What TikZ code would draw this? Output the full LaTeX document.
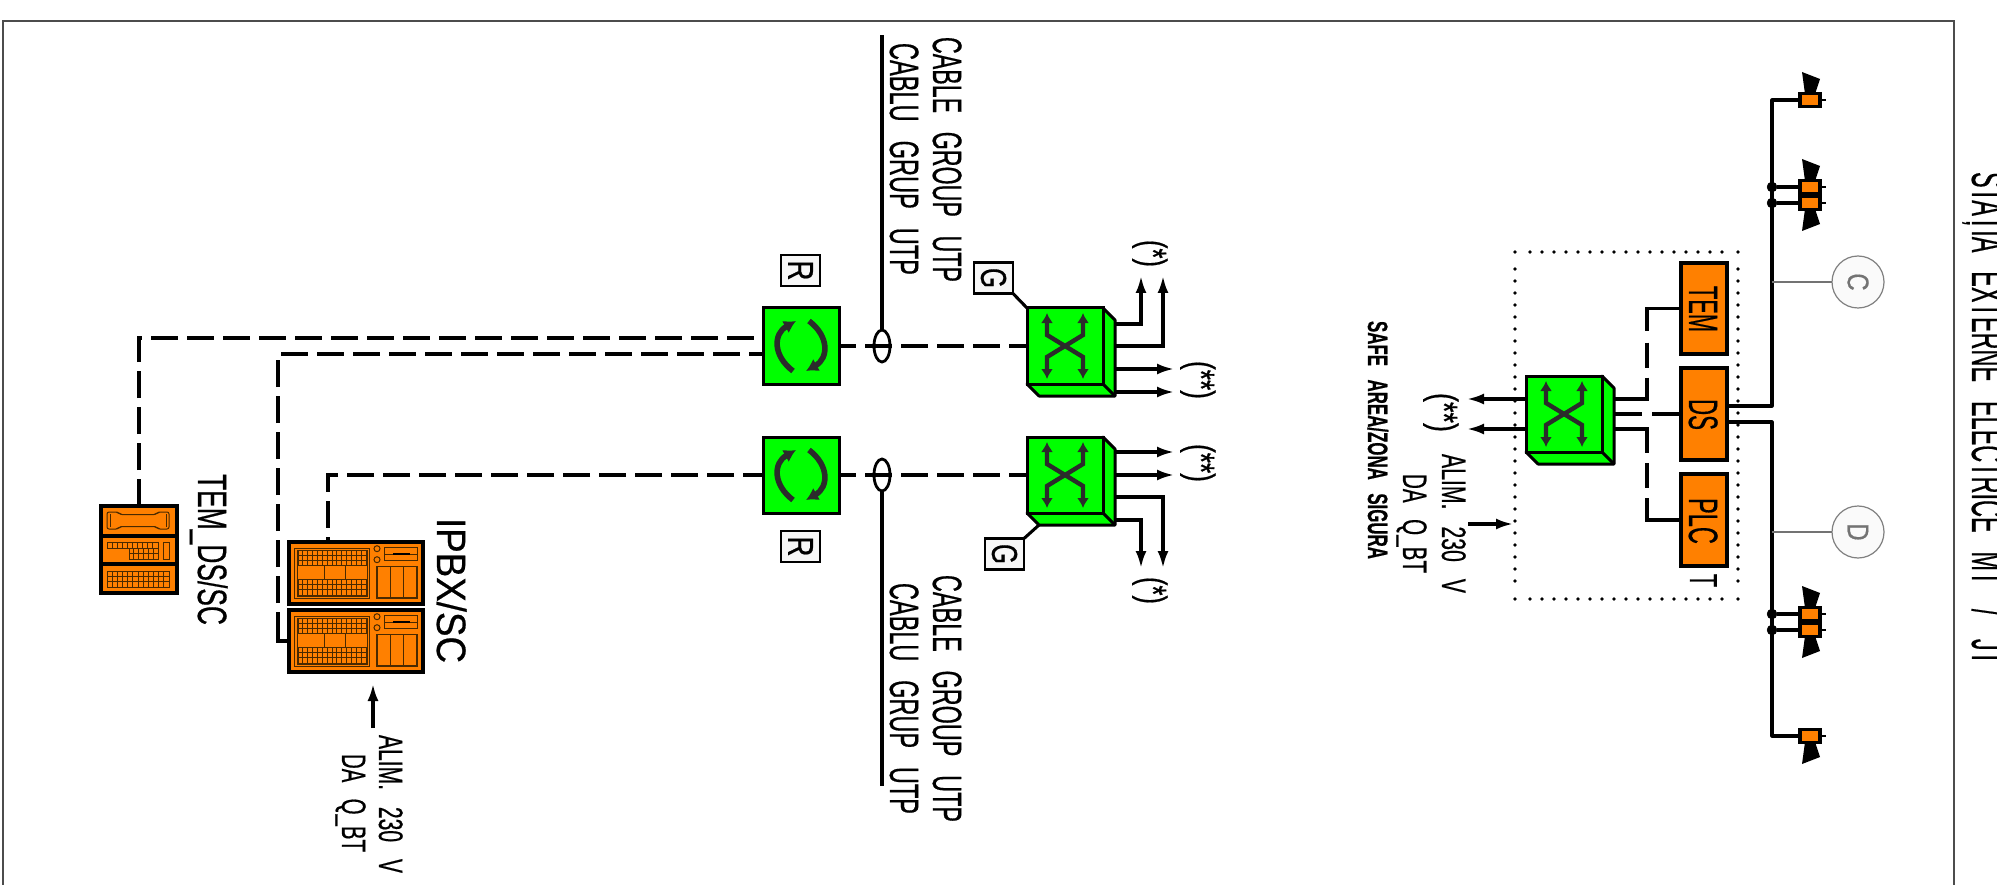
\documentclass[tikz,border=0pt]{standalone}
\usepackage{fontspec}
\usepackage{graphicx}
\setmainfont[FakeBold=0.6]{Liberation Sans}
\usetikzlibrary{arrows.meta,calc,shapes.geometric}
\definecolor{devorange}{HTML}{FF8000}
\definecolor{devgreen}{HTML}{00FF00}
\definecolor{darkline}{HTML}{2B2B2B}
\definecolor{panel}{HTML}{4A2A00}
\tikzset{
  conn/.style={line width=3.05pt,black},
  longdash/.style={dash pattern=on 27pt off 9pt},
  headed/.style={-{Latex[length=17pt,width=11pt]}},
  devbox/.style={draw=black,line width=3.6pt,fill=devorange,inner sep=0pt,outer sep=0pt},
  greenbox/.style={draw=black,line width=3pt,fill=devgreen,inner sep=0pt,outer sep=0pt,minimum width=76pt,minimum height=76pt},
  tagbox/.style={draw=black,line width=2.8pt,fill=white!97!black,inner sep=0pt,outer sep=0pt,minimum width=39pt,minimum height=31pt},
  vt/.style={anchor=base west,rotate=-90,inner sep=0pt,outer sep=0pt},
  fine/.style={draw=panel,line width=1pt},
  graycirc/.style={circle,draw=black!50,line width=1.2pt,fill=black!2,minimum size=52pt,inner sep=0pt,outer sep=0pt,text=black!55,rotate=-90},
  grayline/.style={line width=1.4pt,black!55},
  dotmark/.style={circle,fill=black,inner sep=0pt,minimum size=3.6pt},
  junction/.style={circle,fill=black,draw=black,inner sep=0pt,minimum size=10pt},
  xline/.style={line width=4.4pt,darkline,-{Latex[length=10pt,width=12pt]}},
  rotor/.style={line width=5.6pt,darkline,-{Latex[length=12pt,width=14pt]}}
}
% node name, base x, start y, length, font size, text
\newcommand{\vtext}[6]{\node[vt] (#1) at (#2,#3) {\resizebox{#4pt}{\height}{\fontsize{#5}{#5}\selectfont #6}};}
\newcommand{\gapw}{\hspace{.8em}}
\newcommand{\cellgrid}[6]{%
  \draw[fine] (#1,#2) rectangle (#3,#4);
  \foreach \i in {1,...,#5} {\draw[fine] ({#1+\i*(#3-#1)/#5},#2) -- ({#1+\i*(#3-#1)/#5},#4);}
  \foreach \i in {1,...,#6} {\draw[fine] (#1,{#2+\i*(#4-#2)/#6}) -- (#3,{#2+\i*(#4-#2)/#6});}
}
% switch: name, centre x, centre y
\newcommand{\swbox}[3]{%
  \begin{scope}[shift={(#2,#3)}]
    \draw[line width=3pt,fill=devgreen,line join=round] (38,-38) -- (50,-26) -- (50,50) -- (-26,50) -- (-38,38) -- cycle;
    \draw[line width=3pt] (38,38) -- (50,50);
  \end{scope}
  \node[greenbox] (#1) at (#2,#3) {};
  \begin{scope}[shift={(#2,#3)}]
    \draw[xline] (0,0) -- (-18,-11) -- (-18,-33);
    \draw[xline] (0,0) -- (18,-11) -- (18,-33);
    \draw[xline] (0,0) -- (-18,11) -- (-18,33);
    \draw[xline] (0,0) -- (18,11) -- (18,33);
  \end{scope}
}
% router: name, centre x, centre y
\newcommand{\rotorbox}[3]{%
  \node[greenbox] (#1) at (#2,#3) {};
  \begin{scope}[shift={(#2,#3)}]
    \draw[rotor] (-8,25) .. controls (-28,10) and (-28,-12) .. (-5,-25);
    \draw[rotor] (8,-25) .. controls (28,-10) and (28,12) .. (5,25);
  \end{scope}
}
% server: name, left x, top y
\newcommand{\ipbxbox}[3]{%
  \node[devbox,anchor=north west,minimum width=134pt,minimum height=62pt] (#1) at (#2,#3) {};
  \begin{scope}[shift={(#2,#3)}]
    \draw[fine] (5.7,6) rectangle (80.7,56);
    \draw[fine] (8,8) rectangle (78,54);
    \cellgrid{9}{8.5}{77}{23.7}{14}{3}
    \cellgrid{9}{37.7}{77}{53}{14}{3}
    \draw[fine] (35,23.7) -- (35,37.7) (56.3,23.7) -- (56.3,37.7);
    \draw[fine] (88,6.7) circle (3);
    \draw[fine] (88,17.7) circle (3);
    \draw[fine] (95.7,5.3) rectangle (128,18.7);
    \draw[fine] (95.7,12) -- (128,12);
    \draw[line width=2.6pt] (104,12) -- (121,12);
    \draw[fine,line width=1.2pt] (88,24.3) rectangle (128,56);
    \draw[fine,line width=1.2pt] (101.7,24.3) -- (101.7,56) (114.7,24.3) -- (114.7,56);
  \end{scope}
}
% sounder: name, centre y, direction (-1 up, 1 down)
\newcommand{\hornbox}[3]{%
  \fill[black] (1802,{#2+#3*28}) -- (1820,{#2+#3*21}) -- (1815,{#2+#3*6}) -- (1805,{#2+#3*6}) -- cycle;
  \draw[line width=2.6pt] (1820,#2) -- (1826,#2);
  \node[devbox,minimum width=20pt,minimum height=13pt] (#1) at (1810,#2) {};
}
\begin{document}
\begin{tikzpicture}[x=1pt,y=-1pt]
\clip (0,0) rectangle (1997,885);
\fill[white] (0,0) rectangle (1997,885);
% sheet frame
\draw[line width=2.2pt,black!70] (3,900) -- (3,21) -- (1954,21) -- (1954,900);

% ---------- left group: devices
\node[devbox,anchor=north west,minimum width=76pt,minimum height=30pt] (temA) at (101,506) {};
\node[devbox,anchor=north west,minimum width=76pt,minimum height=28pt] (temB) at (101,536) {};
\node[devbox,anchor=north west,minimum width=76pt,minimum height=29pt] (temC) at (101,564) {};
\draw[fine,rounded corners=2pt] (107,512) -- (118,512) -- (120,514.5) -- (156,514.5) -- (158,512) -- (169,512) -- (169,529) -- (158,529) -- (156,526.5) -- (120,526.5) -- (118,529) -- (107,529) -- cycle;
\draw[fine] (110,514) -- (110,527) (166,514) -- (166,527);
\cellgrid{107}{542}{158}{548}{10}{1}
\cellgrid{129}{548}{158}{559}{6}{2}
\draw[fine] (163,542) rectangle (169,559);
\cellgrid{107}{571}{169}{587}{12}{3}
\ipbxbox{ipbxA}{289}{542}
\ipbxbox{ipbxB}{289}{610}
\coordinate (ipbxAtop) at (328,542);
\coordinate (ipbxBleft) at (289,641);
\coordinate (ipbxBpower) at (373,684);
\coordinate (ipbxBfeed) at (373,728);

% ---------- routers and switches
\rotorbox{rA}{801}{346}
\rotorbox{rB}{801}{475}
\node[tagbox] (tagrA) at (800.5,270.5) {};
\node[tagbox] (tagrB) at (800.5,546.5) {};
\swbox{swA}{1065}{346}
\swbox{swB}{1065}{475}
\node[tagbox] (taggA) at (993.5,278) {};
\node[tagbox] (taggB) at (1004.5,554) {};
\coordinate (swBcorner) at (1039,525);
\draw[conn] (taggA.south east) -- (swA.north west);
\draw[conn] (taggB.north east) -- (swBcorner);

\coordinate (rAw1) at (762,338);
\coordinate (rAw2) at (762,354);
\coordinate (elbowB) at (278,641);
\coordinate (elbowBup) at (278,612);
\draw[conn,longdash] (temA.north) |- (rAw1);
\draw[conn,longdash,dash phase=23pt] (ipbxBleft) -- (elbowB) |- (rAw2);
\draw[conn] (ipbxBleft) -- (elbowB) -- (elbowBup);
\draw[conn,longdash,dash phase=7pt] (rB.west) -| (ipbxAtop);
\draw[conn,longdash,dash phase=10pt] (rA.east) -- (swA.west);
\draw[conn,longdash,dash phase=10pt] (rB.east) -- (swB.west);

% cable groups
\node[ellipse,draw=black,line width=2.8pt,minimum width=16pt,minimum height=32pt,inner sep=0pt,outer sep=0pt] (ovA) at (882,346) {};
\node[ellipse,draw=black,line width=2.8pt,minimum width=16pt,minimum height=32pt,inner sep=0pt,outer sep=0pt] (ovB) at (882,475) {};
\coordinate (cabA) at (882,35);
\coordinate (cabB) at (882,786);
\draw[conn] (ovA.north) -- (cabA);
\draw[conn] (ovB.south) -- (cabB);

% switch outputs
\coordinate (a1) at (1115,324); \coordinate (a1t) at (1141,276);
\coordinate (a2) at (1115,346); \coordinate (a2t) at (1163,276);
\coordinate (a3) at (1115,369); \coordinate (a3t) at (1174,369);
\coordinate (a4) at (1115,392); \coordinate (a4t) at (1174,392);
\coordinate (b1) at (1115,452); \coordinate (b1t) at (1174,452);
\coordinate (b2) at (1115,475); \coordinate (b2t) at (1174,475);
\coordinate (b3) at (1115,497); \coordinate (b3t) at (1163,568);
\coordinate (b4) at (1115,520); \coordinate (b4t) at (1141,568);
\draw[conn,headed] (a1) -| (a1t);
\draw[conn,headed] (a2) -| (a2t);
\draw[conn,headed] (a3) -- (a3t);
\draw[conn,headed] (a4) -- (a4t);
\draw[conn,headed] (b1) -- (b1t);
\draw[conn,headed] (b2) -- (b2t);
\draw[conn,headed] (b3) -| (b3t);
\draw[conn,headed] (b4) -| (b4t);
\draw[conn,headed] (ipbxBfeed) -- (ipbxBpower);

% ---------- safe area
\foreach \x in {1515,1530,1542,...,1722,1738} {
  \node[dotmark] at (\x,252) {};
  \node[dotmark] at (\x,599) {};
}
\foreach \y in {269,281,...,581} {
  \node[dotmark] at (1515,\y) {};
  \node[dotmark] at (1738,\y) {};
}
\node[devbox,minimum width=46pt,minimum height=91pt] (tem) at (1704,308.5) {};
\node[devbox,minimum width=46pt,minimum height=92pt] (ds) at (1704,414) {};
\node[devbox,minimum width=46pt,minimum height=92pt] (plc) at (1704,520) {};
\swbox{swC}{1564}{414}
\coordinate (c1) at (1614,399);
\coordinate (c2) at (1614,414);
\coordinate (c3) at (1614,429);
\coordinate (cv1) at (1647,399);
\coordinate (cv3) at (1647,429);
\draw[conn,dash pattern=on 56pt off 12pt on 25pt off 10pt on 70pt] (tem.west) -| (cv1) -- (c1);
\draw[conn,dash pattern=on 28pt off 10pt on 40pt] (c2) -- (ds.west);
\draw[conn,dash pattern=on 57pt off 10pt on 25pt off 10pt on 70pt] (c3) -- (cv3) |- (plc.west);
\coordinate (cl1) at (1526,399); \coordinate (cl1t) at (1467,399);
\coordinate (cl2) at (1526,429); \coordinate (cl2t) at (1467,429);
\draw[conn,headed] (cl1) -- (cl1t);
\draw[conn,headed] (cl2) -- (cl2t);
\coordinate (pwr) at (1468,524); \coordinate (pwrt) at (1513,524);
\draw[conn,headed] (pwr) -- (pwrt);

% ---------- sounders
\hornbox{hA}{100}{-1}
\hornbox{hB}{187}{-1}
\hornbox{hC}{203}{1}
\hornbox{hD}{614}{-1}
\hornbox{hE}{630}{1}
\hornbox{hF}{736}{1}
\coordinate (dsO1) at (1727,406);
\coordinate (dsO2) at (1727,422);
\coordinate (busT) at (1772,100);
\coordinate (busB) at (1772,736);
\draw[conn,line join=round] (dsO1) -| (busT) -- (hA.west);
\draw[conn,line join=round] (dsO2) -| (busB) -- (hF.west);
\node[junction] (jB) at (1772,187) {};
\node[junction] (jC) at (1772,203) {};
\node[junction] (jD) at (1772,614) {};
\node[junction] (jE) at (1772,630) {};
\draw[conn] (jB) -- (hB.west);
\draw[conn] (jC) -- (hC.west);
\draw[conn] (jD) -- (hD.west);
\draw[conn] (jE) -- (hE.west);
\node[graycirc] (cC) at (1858,282) {\scalebox{0.8}[1]{\fontsize{30}{30}\selectfont C}};
\node[graycirc] (cD) at (1858,532) {\scalebox{0.8}[1]{\fontsize{30}{30}\selectfont D}};
\coordinate (busC) at (1772,282);
\coordinate (busD) at (1772,532);
\draw[grayline] (busC) -- (cC);
\draw[grayline] (busD) -- (cD);

% ---------- labels
\vtext{t1}{933}{37}{245}{41}{CABLE\gapw GROUP\gapw UTP}
\vtext{t2}{890}{43}{232}{41}{CABLU\gapw GRUP\gapw UTP}
\vtext{t3}{933}{575}{247}{41}{CABLE\gapw GROUP\gapw UTP}
\vtext{t4}{890}{583}{231}{41}{CABLU\gapw GRUP\gapw UTP}
\vtext{t5}{379}{735}{138}{34}{ALIM.\gapw 230\gapw V}
\vtext{t6}{342}{754}{98}{34}{DA\gapw Q\_BT}
\vtext{t7}{437}{518}{145}{41}{IPBX/SC}
\vtext{t8}{198}{474}{151}{41}{TEM\_DS/SC}
\vtext{t9}{1689}{286}{46}{41}{TEM}
\vtext{t10}{1689}{399}{31}{41}{DS}
\vtext{t11}{1689}{498}{46}{41}{PLC}
\vtext{t12}{1690}{574}{13}{39}{T}
\vtext{t13}{1442}{454}{139}{34}{ALIM.\gapw 230\gapw V}
\vtext{t14}{1403}{474}{99}{34}{DA\gapw Q\_BT}
\vtext{t15}{1368}{321}{238}{28}{\bfseries SAFE\gapw AREA/ZONA\gapw SIGURA}
\vtext{t16}{1140}{240}{27}{38}{(*)}
\vtext{t17}{1140}{577}{27}{38}{(*)}
\vtext{t18}{1188}{361}{38}{38}{(**)}
\vtext{t19}{1188}{444}{38}{38}{(**)}
\vtext{t20}{1431}{393}{39}{38}{(**)}
\vtext{t21}{1972}{172}{493}{46}{STAȚIA\gapw EXTERNE\gapw ELECTRICE\gapw MT\hspace{1em}/\hspace{1em}JT}
\node[vt,anchor=center] (lR1) at (tagrA) {\resizebox{20pt}{\height}{\fontsize{36}{36}\selectfont R}};
\node[vt,anchor=center] (lR2) at (tagrB) {\resizebox{20pt}{\height}{\fontsize{36}{36}\selectfont R}};
\node[vt,anchor=center] (lG1) at (taggA) {\resizebox{20pt}{\height}{\fontsize{36}{36}\selectfont G}};
\node[vt,anchor=center] (lG2) at (taggB) {\resizebox{20pt}{\height}{\fontsize{36}{36}\selectfont G}};
\end{tikzpicture}
\end{document}
